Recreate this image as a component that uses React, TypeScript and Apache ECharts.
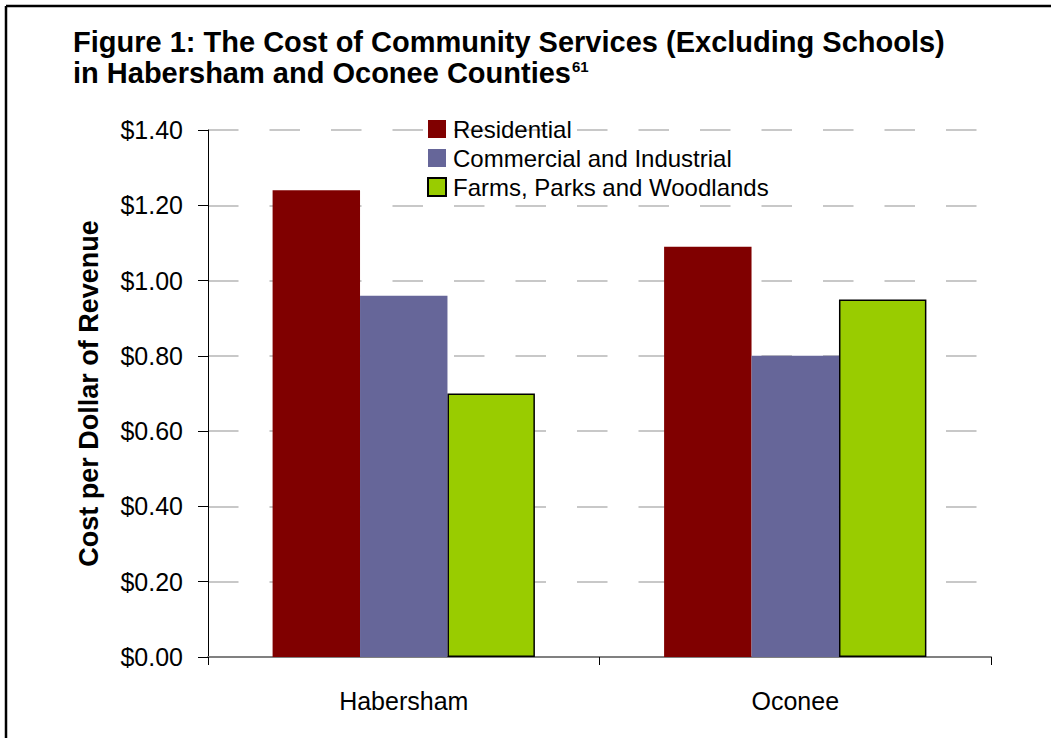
import React, { useEffect, useRef } from "react";
import * as echarts from "echarts";

const categories = ["Habersham", "Oconee"];
const residential = [1.24, 1.09];
const commercial = [0.96, 0.8];
const farms = [0.7, 0.95];
const seriesNames = ["Residential", "Commercial and Industrial", "Farms, Parks and Woodlands"];
const yTicks = [0, 0.2, 0.4, 0.6, 0.8, 1.0, 1.2, 1.4];

const FONT = "Liberation Sans";

export default function App() {
  const ref = useRef<HTMLDivElement>(null);
  useEffect(() => {
    if (!ref.current) return;
    const chart = echarts.init(ref.current, undefined, { renderer: "svg" });
    chart.setOption({
      animation: false,
      backgroundColor: "#ffffff",
      textStyle: { fontFamily: FONT },
      title: {
        left: 68,
        top: 21,
        text: "{b|Figure 1: The Cost of Community Services (Excluding Schools)}\n{b|in Habersham and Oconee Counties}{s|61}",
        textStyle: {
          rich: {
            b: { fontFamily: FONT, fontWeight: "bold", fontSize: 29, color: "#000", lineHeight: 31 },
            s: { fontFamily: FONT, fontSize: 15, color: "#000", verticalAlign: "top", lineHeight: 16, padding: [2, 0, 0, 1] },
          },
        },
      },
      legend: {
        orient: "vertical",
        left: 422,
        top: 112,
        itemWidth: 18,
        itemHeight: 18,
        itemGap: 5,
        icon: "rect",
        textStyle: { fontFamily: FONT, fontSize: 24, color: "#000", padding: [0, 0, 0, 2] },
        data: seriesNames,
      },
      grid: { left: 208, right: 60, top: 130, bottom: 81, containLabel: false },
      xAxis: {
        type: "category",
        data: categories,
        axisLine: { lineStyle: { color: "#808080", width: 2 } },
        axisTick: { show: true, length: 8, lineStyle: { color: "#000", width: 1 } },
        axisLabel: { fontFamily: FONT, fontSize: 25, color: "#000", margin: 31 },
      },
      yAxis: {
        type: "value",
        min: 0,
        max: 1.4,
        interval: 0.2,
        name: "Cost per Dollar of Revenue",
        nameLocation: "middle",
        nameRotate: 90,
        nameGap: 106,
        nameTextStyle: { fontFamily: FONT, fontSize: 27, fontWeight: "bold", color: "#000" },
        axisLine: { show: true, lineStyle: { color: "#000", width: 1 } },
        axisTick: { show: true, inside: false, length: 10, lineStyle: { color: "#000" } },
        axisLabel: {
          fontFamily: FONT,
          fontSize: 25,
          color: "#000",
          margin: 25,
          formatter: (v: number) => {
            const t = yTicks.find((x) => Math.abs(x - v) < 1e-6);
            return "$" + (t !== undefined ? t : v).toFixed(2);
          },
        },
        splitLine: { show: true, lineStyle: { color: "#c8c8c8", width: 2, type: [30.5, 31] } },
      },
      series: [
        {
          name: seriesNames[0],
          type: "bar",
          data: residential,
          barGap: "0%",
          barCategoryGap: "33%",
          itemStyle: { color: "#800000" },
        },
        {
          name: seriesNames[1],
          type: "bar",
          data: commercial,
          itemStyle: { color: "#666699" },
        },
        {
          name: seriesNames[2],
          type: "bar",
          data: farms,
          itemStyle: { color: "#99cc00", borderColor: "#000", borderWidth: 1.5 },
        },
      ],
      graphic: [
        { type: "line", shape: { x1: 6, y1: 6, x2: 1051, y2: 6 }, style: { stroke: "#000", lineWidth: 2.5 } },
        { type: "line", shape: { x1: 6, y1: 6, x2: 6, y2: 738 }, style: { stroke: "#000", lineWidth: 2.5 } },
      ],
    });
    return () => chart.dispose();
  }, []);
  return (
    <div
      ref={ref}
      style={{ position: "fixed", left: 0, top: 0, width: 1051, height: 738, background: "#fff" }}
    />
  );
}
